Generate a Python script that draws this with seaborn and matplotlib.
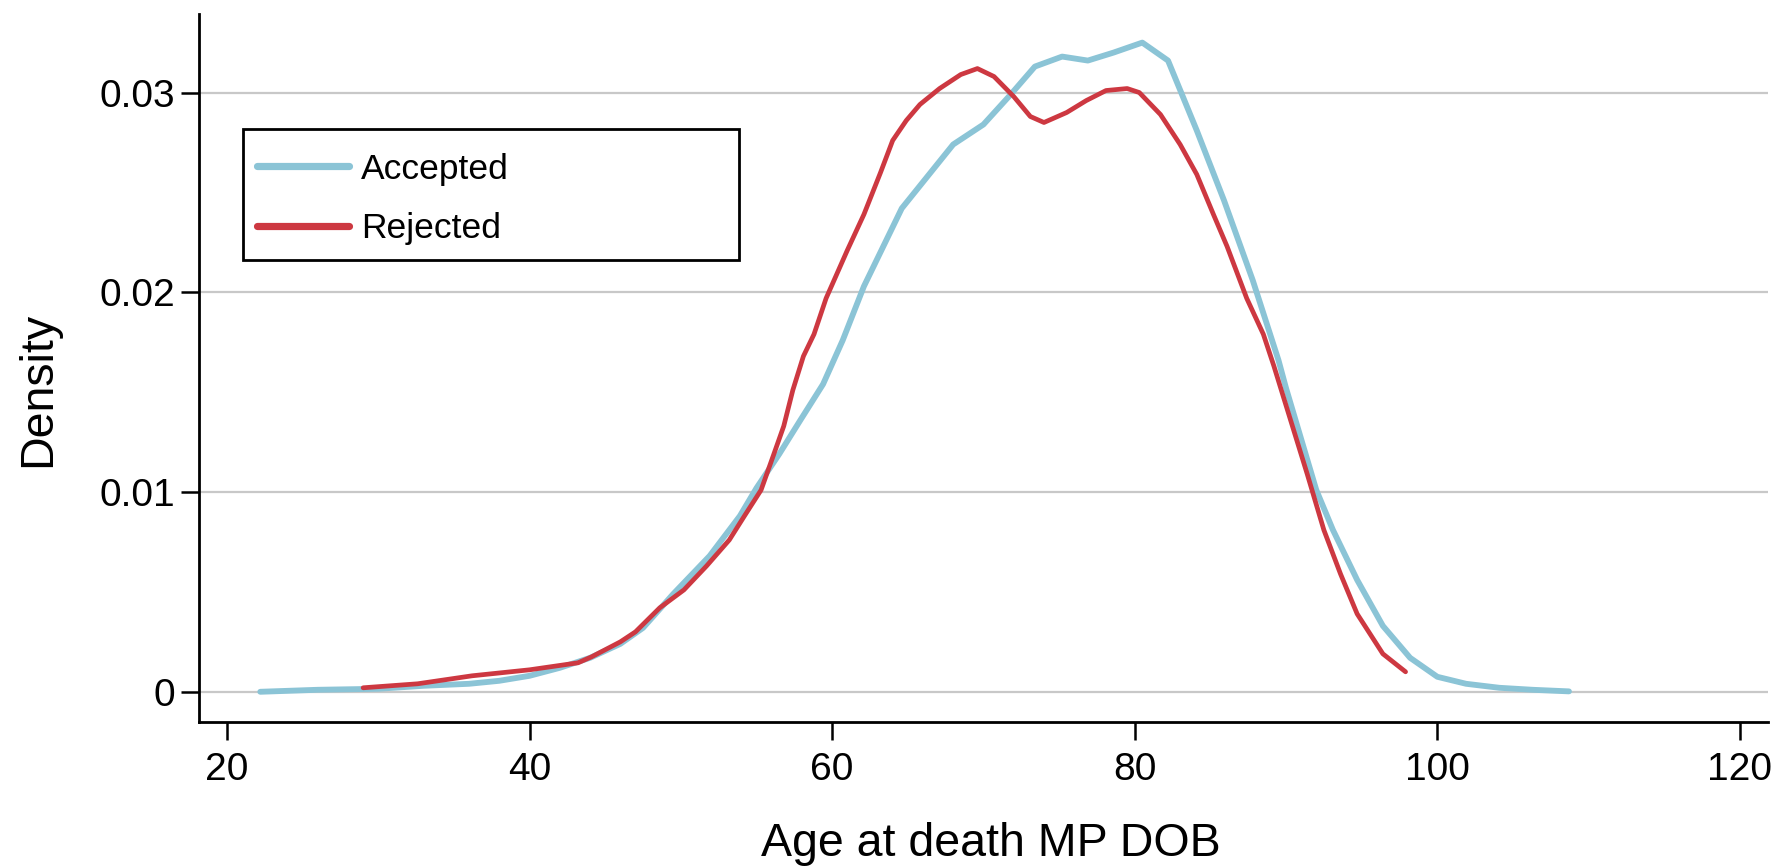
import matplotlib
matplotlib.use('Agg')
import matplotlib.pyplot as plt
from matplotlib.patches import Rectangle
import pandas as pd
import seaborn as sns

# Kernel density curves
accepted_age = [22.2, 26.0, 30.0, 33.0, 36.0, 38.0, 40.0, 42.0, 44.0, 46.0,
                47.5, 49.5, 51.9, 53.9, 55.0, 56.5, 57.9, 59.4, 60.7, 62.1,
                64.6, 68.0, 70.0, 71.8, 73.4, 75.2, 76.9, 78.6, 80.5, 82.2,
                84.1, 85.9, 87.8, 89.5, 90.0, 92.0, 93.1, 94.7, 96.4, 98.2,
                100.0, 101.9, 104.1, 106.3, 108.7]
accepted_density = [0.0, 0.0001, 0.00015, 0.0003, 0.0004, 0.00055, 0.0008, 0.0012, 0.0017, 0.0024,
                    0.0032, 0.0049, 0.0068, 0.0088, 0.0102, 0.0119, 0.0136, 0.0154, 0.0176, 0.0203,
                    0.0242, 0.0274, 0.0284, 0.0299, 0.0313, 0.0318, 0.0316, 0.0320, 0.0325, 0.0316,
                    0.0281, 0.0246, 0.0206, 0.0166, 0.0152, 0.0101, 0.0081, 0.0056, 0.0033, 0.0017,
                    0.00075, 0.0004, 0.0002, 0.0001, 0.00002]

rejected_age = [29.0, 32.6, 36.2, 40.0, 43.2, 44.1, 46.0, 47.0, 48.6, 50.2,
                51.7, 53.2, 54.2, 55.3, 56.1, 56.8, 57.4, 58.1, 58.8, 59.6,
                61.0, 62.1, 63.2, 64.0, 64.9, 65.8, 67.1, 68.5, 69.6, 70.7,
                72.0, 73.1, 74.0, 75.5, 76.8, 78.1, 79.5, 80.3, 81.7, 83.0,
                84.1, 85.2, 86.1, 87.4, 88.5, 89.2, 91.4, 92.5, 93.6, 94.7,
                96.4, 97.9]
rejected_density = [0.0002, 0.0004, 0.0008, 0.0011, 0.00145, 0.00175, 0.0025, 0.0030, 0.0042, 0.0051,
                    0.0063, 0.0076, 0.0088, 0.0101, 0.0118, 0.0133, 0.0151, 0.0168, 0.0179, 0.0197,
                    0.0221, 0.0239, 0.0260, 0.0276, 0.0286, 0.0294, 0.0302, 0.0309, 0.0312, 0.0308,
                    0.0298, 0.0288, 0.0285, 0.0290, 0.0296, 0.0301, 0.0302, 0.0300, 0.0289, 0.0274,
                    0.0259, 0.0239, 0.0223, 0.0197, 0.0179, 0.0163, 0.0109, 0.0081, 0.0059, 0.0039,
                    0.0019, 0.0010]

x_ticks = [20, 40, 60, 80, 100, 120]
y_ticks = [0, 0.01, 0.02, 0.03]
y_tick_labels = ['0', '0.01', '0.02', '0.03']

df_acc = pd.DataFrame({'age': accepted_age, 'density': accepted_density})
df_rej = pd.DataFrame({'age': rejected_age, 'density': rejected_density})

sns.set_style('white')
plt.rcParams['font.family'] = ['Liberation Sans', 'DejaVu Sans']
plt.rcParams['text.color'] = 'black'
plt.rcParams['axes.labelcolor'] = 'black'

fig = plt.figure(figsize=(17.79, 8.68), dpi=100)
ax = fig.add_axes([0.1116, 0.1685, 0.8820, 0.8158])

sns.lineplot(data=df_acc, x='age', y='density', color='#8BC4D6', lw=4.2,
             sort=False, estimator=None, label='Accepted', ax=ax)
sns.lineplot(data=df_rej, x='age', y='density', color='#CD3841', lw=3.4,
             sort=False, estimator=None, label='Rejected', ax=ax)

ax.set_xlim(18.12, 121.83)
ax.set_ylim(-0.0015, 0.03395)
ax.set_xticks(x_ticks)
ax.set_yticks(y_ticks)
ax.set_yticklabels(y_tick_labels)

# horizontal grid only, light grey
ax.yaxis.grid(True, color='#c8c8c8', lw=1.6)
ax.xaxis.grid(False)
ax.set_axisbelow(True)

for s in ['top', 'right']:
    ax.spines[s].set_visible(False)
for s in ['left', 'bottom']:
    ax.spines[s].set_color('black')
    ax.spines[s].set_linewidth(2)

ax.tick_params(axis='both', direction='out', length=13, width=1.8, color='black',
               labelsize=28, labelcolor='black', bottom=True, left=True)
ax.tick_params(axis='x', pad=9)
ax.tick_params(axis='y', pad=4)

ax.set_xlabel('Age at death MP DOB', fontsize=33.5)
ax.set_ylabel('Density', fontsize=33.5)
ax.xaxis.set_label_coords(0.505, -0.142)
ax.yaxis.set_label_coords(-0.0883, 0.4696)

# legend box: wide frame drawn separately, entries sit low inside it (Stata look)
ax.add_patch(Rectangle((0.0285, 0.6520), 0.3159, 0.1846, transform=ax.transAxes,
                       facecolor='white', edgecolor='black', lw=2, zorder=4))
leg = ax.legend(loc='upper left', bbox_to_anchor=(0.0370, 0.8037),
                borderaxespad=0, frameon=False, fontsize=25.5,
                handlelength=2.6, handletextpad=0.35,
                labelspacing=0.745, borderpad=0)
leg.set_zorder(5)
for h in leg.get_lines():
    h.set_linewidth(5.2)

fig.savefig('out.png', dpi=100)
